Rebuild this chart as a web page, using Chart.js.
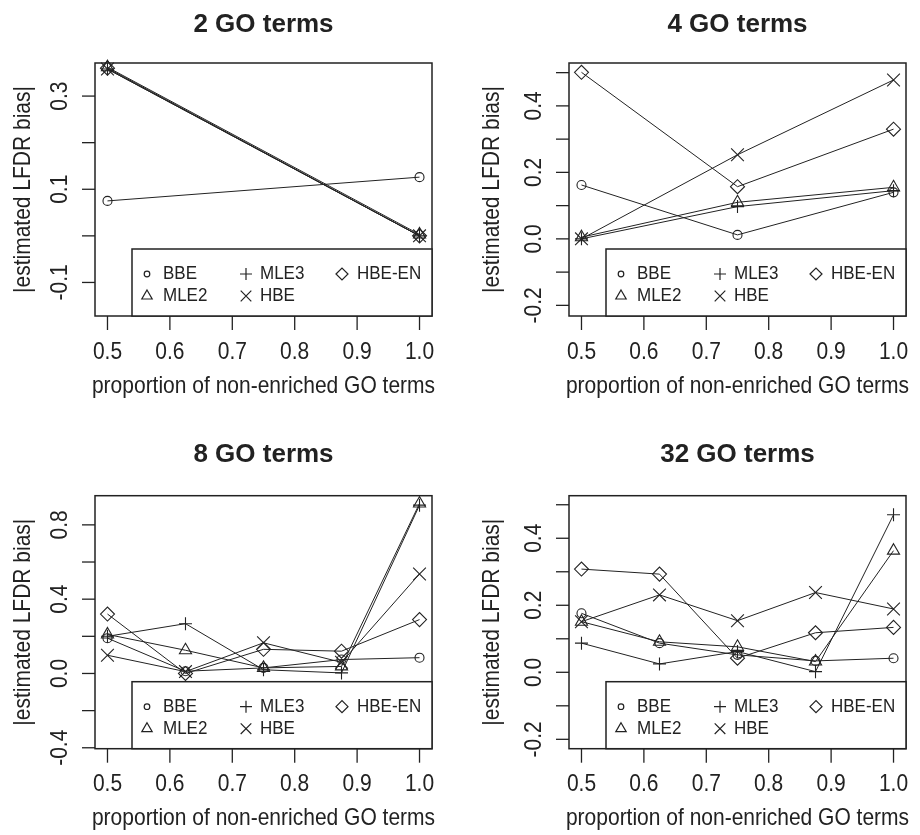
<!DOCTYPE html>
<html>
<head>
<meta charset="UTF-8">
<title>LFDR bias by GO terms</title>
<script src="https://cdn.jsdelivr.net/npm/chart.js@4.4.0/dist/chart.umd.min.js"></script>
<style>
  body { margin: 0; background: #fff; }
  #wrap { position: relative; width: 920px; height: 835px; }
  canvas { position: absolute; }
</style>
</head>
<body>
<div id="wrap">
  <canvas id="c1" width="460" height="418" style="left:0;top:0"></canvas>
  <canvas id="c2" width="460" height="418" style="left:460px;top:0"></canvas>
  <canvas id="c3" width="460" height="417" style="left:0;top:418px"></canvas>
  <canvas id="c4" width="460" height="417" style="left:460px;top:418px"></canvas>
</div>
<script>
// methods and their symbols (R pch 1..5)
const methods = ['BBE', 'MLE2', 'MLE3', 'HBE', 'HBE-EN'];
const xTicks = [0.5, 0.6, 0.7, 0.8, 0.9, 1.0];
const xTickLabels = ['0.5', '0.6', '0.7', '0.8', '0.9', '1.0'];

// 2 GO terms
const x2 = [0.5, 1.0];
const go2_bbe = [0.075, 0.126];
const go2_mle2 = [0.362, 0.003];
const go2_mle3 = [0.358, 0.0];
const go2_hbe = [0.358, 0.0];
const go2_hbeen = [0.360, 0.0];
const yTicks2 = [-0.1, 0.0, 0.1, 0.2, 0.3];
const yLabels2 = ['-0.1', '', '0.1', '', '0.3'];

// 4 GO terms
const x4 = [0.5, 0.75, 1.0];
const go4_bbe = [0.162, 0.012, 0.140];
const go4_mle2 = [0.005, 0.110, 0.155];
const go4_mle3 = [0.0, 0.097, 0.145];
const go4_hbe = [0.0, 0.253, 0.478];
const go4_hbeen = [0.501, 0.157, 0.330];
const yTicks4 = [-0.2, -0.1, 0.0, 0.1, 0.2, 0.3, 0.4, 0.5];
const yLabels4 = ['-0.2', '', '0.0', '', '0.2', '', '0.4', ''];

// 8 GO terms
const x8 = [0.5, 0.625, 0.75, 0.875, 1.0];
const go8_bbe = [0.190, 0.012, 0.030, 0.075, 0.085];
const go8_mle2 = [0.210, 0.125, 0.030, 0.038, 0.915];
const go8_mle3 = [0.200, 0.268, 0.020, 0.003, 0.906];
const go8_hbe = [0.098, 0.010, 0.165, 0.060, 0.536];
const go8_hbeen = [0.320, 0.0, 0.130, 0.120, 0.290];
const yTicks8 = [-0.4, -0.2, 0.0, 0.2, 0.4, 0.6, 0.8];
const yLabels8 = ['-0.4', '', '0.0', '', '0.4', '', '0.8'];

// 32 GO terms
const x32 = [0.5, 0.625, 0.75, 0.875, 1.0];
const go32_bbe = [0.176, 0.087, 0.052, 0.034, 0.042];
const go32_mle2 = [0.151, 0.091, 0.076, 0.032, 0.363];
const go32_mle3 = [0.087, 0.025, 0.062, 0.002, 0.470];
const go32_hbe = [0.151, 0.231, 0.154, 0.238, 0.189];
const go32_hbeen = [0.308, 0.293, 0.042, 0.118, 0.134];
const yTicks32 = [-0.2, -0.1, 0.0, 0.1, 0.2, 0.3, 0.4, 0.5];
const yLabels32 = ['-0.2', '', '0.0', '', '0.2', '', '0.4', ''];

const ink = '#222';
const styles = [
  { pointStyle: 'circle', radius: 4.5, legendRadius: 2.8 },
  { pointStyle: 'triangle', radius: 7, legendRadius: 6 },
  { pointStyle: 'cross', radius: 6.5, legendRadius: 6 },
  { pointStyle: 'crossRot', radius: 9, legendRadius: 7.5 },
  { pointStyle: 'rectRot', radius: 7, legendRadius: 6 }
];

function txt(ctx, s, x, y, font, sy, rot, align) {
  ctx.save();
  ctx.translate(x, y);
  if (rot) ctx.rotate(-Math.PI / 2);
  ctx.scale(1, sy);
  ctx.font = font;
  ctx.fillStyle = ink;
  ctx.textAlign = align || 'center';
  ctx.textBaseline = 'middle';
  ctx.fillText(s, 0, 0);
  ctx.restore();
}

// R-like frame: box, ticks, rotated y labels, titles, legend
const rFrame = {
  id: 'rFrame',
  afterDatasetsDraw(chart, args, o) {
    const ctx = chart.ctx;
    const a = chart.chartArea;
    const xs = chart.scales.x, ys = chart.scales.y;
    ctx.save();
    ctx.strokeStyle = ink;
    ctx.lineWidth = 1.5;
    ctx.strokeRect(a.left, a.top, a.right - a.left, a.bottom - a.top);

    ctx.lineWidth = 1.3;
    xTicks.forEach((v, i) => {
      const px = xs.getPixelForValue(v);
      ctx.beginPath(); ctx.moveTo(px, a.bottom); ctx.lineTo(px, a.bottom + 14); ctx.stroke();
      txt(ctx, xTickLabels[i], px, a.bottom + 36, '21px "Liberation Sans", Arial, sans-serif', 1.15);
    });
    o.yTicks.forEach((v, i) => {
      const py = ys.getPixelForValue(v);
      ctx.beginPath(); ctx.moveTo(a.left - 13, py); ctx.lineTo(a.left, py); ctx.stroke();
      if (o.yLabels[i]) txt(ctx, o.yLabels[i], a.left - 35, py, '21px "Liberation Sans", Arial, sans-serif', 1.15, true);
    });

    const cx = (a.left + a.right) / 2, cy = (a.top + a.bottom) / 2;
    txt(ctx, o.title, cx, a.top - o.titleGap, 'bold 26px "Liberation Sans", Arial, sans-serif', 1.0);
    txt(ctx, 'proportion of non-enriched GO terms', cx, a.bottom + 70, '21px "Liberation Sans", Arial, sans-serif', 1.15);
    txt(ctx, '|estimated LFDR bias|', a.left - o.yTitleGap, cy, '21px "Liberation Sans", Arial, sans-serif', 1.15, true);

    // legend, bottom right
    const lw = 300, lh = 67;
    const lx = a.right - lw, ly = a.bottom - lh;
    ctx.fillStyle = '#fff';
    ctx.fillRect(lx, ly, lw, lh);
    ctx.lineWidth = 1.5;
    ctx.strokeRect(lx, ly, lw, lh);
    const cols = [[15, 31], [114, 128], [210, 225]];
    const rows = [25, 47];
    chart.data.datasets.forEach((ds, i) => {
      const c = cols[Math.floor(i / 2)], r = rows[i % 2];
      ctx.strokeStyle = ink;
      ctx.fillStyle = 'rgba(0,0,0,0)';
      ctx.lineWidth = 1.2;
      Chart.helpers.drawPoint(ctx, { pointStyle: ds.pointStyle, radius: styles[i].legendRadius, rotation: 0, borderWidth: 1.2 }, lx + c[0], ly + r);
      txt(ctx, ds.label, lx + c[1], ly + r, '17px "Liberation Sans", Arial, sans-serif', 1.1, false, 'left');
    });
    ctx.restore();
  }
};

function makeChart(id, xv, series, yMin, yMax, yTicks, yLabels, title, pad, titleGap, yTitleGap) {
  const datasets = series.map((vals, i) => ({
    label: methods[i],
    data: vals.map((v, j) => ({ x: xv[j], y: v })),
    borderColor: ink,
    borderWidth: 1,
    pointStyle: styles[i].pointStyle,
    pointRadius: styles[i].radius,
    pointBorderWidth: 1.1,
    pointBorderColor: ink,
    pointBackgroundColor: 'rgba(0,0,0,0)',
    clip: false,
    tension: 0
  }));
  return new Chart(document.getElementById(id), {
    type: 'line',
    data: { datasets },
    options: {
      responsive: false,
      animation: false,
      layout: { padding: pad },
      scales: {
        x: { type: 'linear', min: 0.48, max: 1.02, display: false },
        y: { type: 'linear', min: yMin, max: yMax, display: false }
      },
      plugins: {
        legend: { display: false },
        tooltip: { enabled: false },
        rFrame: { title, yTicks, yLabels, titleGap, yTitleGap }
      }
    },
    plugins: [rFrame]
  });
}

makeChart('c1', x2, [go2_bbe, go2_mle2, go2_mle3, go2_hbe, go2_hbeen], -0.172, 0.371,
  yTicks2, yLabels2, '2 GO terms', { left: 95, top: 63, right: 28, bottom: 102 }, 38.5, 72);
makeChart('c2', x4, [go4_bbe, go4_mle2, go4_mle3, go4_hbe, go4_hbeen], -0.232, 0.529,
  yTicks4, yLabels4, '4 GO terms', { left: 109, top: 63, right: 14, bottom: 102 }, 38.5, 77);
makeChart('c3', x8, [go8_bbe, go8_mle2, go8_mle3, go8_hbe, go8_hbeen], -0.405, 0.957,
  yTicks8, yLabels8, '8 GO terms', { left: 95, top: 77.7, right: 28, bottom: 86.3 }, 40.5, 72);
makeChart('c4', x32, [go32_bbe, go32_mle2, go32_mle3, go32_hbe, go32_hbeen], -0.228, 0.527,
  yTicks32, yLabels32, '32 GO terms', { left: 109, top: 77.7, right: 14, bottom: 86.3 }, 40.5, 77);
</script>
</body>
</html>
